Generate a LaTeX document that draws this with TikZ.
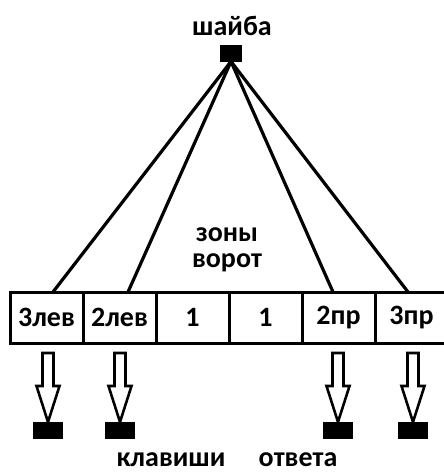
\documentclass[tikz,border=0pt]{standalone}
\usepackage{fontspec}
\setmainfont{Carlito}
\begin{document}
\begin{tikzpicture}[x=1pt,y=-1pt,
  lbl/.style={font=\fontsize{28}{30}\selectfont\bfseries, inner sep=0pt},
  cell/.style={draw, line width=3pt, minimum width=73pt, minimum height=51pt, outer sep=0pt, inner sep=0pt, font=\fontsize{28}{30}\selectfont\bfseries},
  blk/.style={fill=black, draw=none, inner sep=0pt, outer sep=0pt},
  link/.style={line width=3.2pt},
  hollow/.style={draw, line width=2.6pt, fill=white, line join=miter}]
\useasboundingbox (0,0) rectangle (444,472);
\fill[white] (0,0) rectangle (444,472);
\node[lbl] (t) at (232,26) {шайба};
\node[blk, minimum width=22pt, minimum height=17pt] (puck) at (231,53) {};
\node[cell] (c1) at (46.5,317.5) {3лев};
\node[cell] (c2) at (119.5,317.5) {2лев};
\node[cell] (c3) at (192.5,317.5) {1};
\node[cell] (c4) at (265.5,317.5) {1};
\node[cell] (c5) at (338.5,317.5) {2пр};
\node[cell] (c6) at (411.5,317.5) {3пр};
\node[lbl, align=center] (z) at (227,250) {зоны\\[-4pt]ворот};
\draw[link] (puck.south) -- ([xshift=6.5pt]c1.north);
\draw[link] (puck.south) -- ([xshift=8.5pt]c2.north);
\draw[link] (puck.south) -- ([xshift=-5.5pt]c5.north);
\draw[link] (puck.south) -- ([xshift=-3.5pt]c6.north);
\node[blk, minimum width=30pt, minimum height=17pt, anchor=north] (k1) at (48,422) {};
\node[blk, minimum width=30pt, minimum height=17pt, anchor=north] (k2) at (120,422) {};
\node[blk, minimum width=30pt, minimum height=17pt, anchor=north] (k3) at (338,422) {};
\node[blk, minimum width=30pt, minimum height=17pt, anchor=north] (k4) at (413,422) {};
\foreach \k in {k1,k2,k3,k4}{
  \draw[hollow] (\k.north) -- ++(-11.5,-36) -- ++(6,0) -- ++(0,-33) -- ++(11,0) -- ++(0,33) -- ++(6,0) -- cycle;
}
\node[lbl, anchor=base] (kl) at (171,466) {клавиши};
\node[lbl, anchor=base] (ot) at (298,466) {ответа};
\end{tikzpicture}
\end{document}
